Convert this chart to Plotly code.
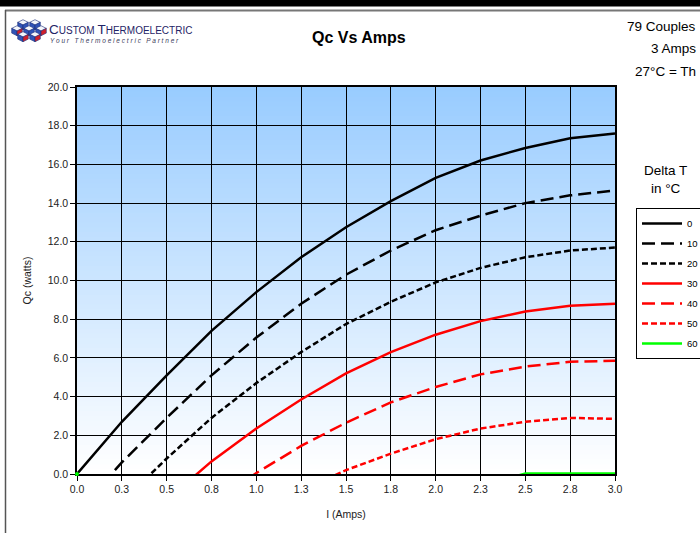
import plotly.graph_objects as go

# ---------------- data ----------------
current = [0.0, 0.25, 0.5, 0.75, 1.0, 1.25, 1.5, 1.75, 2.0, 2.25, 2.5, 2.75, 3.0]
q_dt0 = [0.0, 2.7, 5.1, 7.4, 9.4, 11.2, 12.75, 14.1, 15.3, 16.2, 16.85, 17.35, 17.6]
q_dt10 = [-2.0, 0.6, 2.9, 5.1, 7.05, 8.8, 10.3, 11.55, 12.6, 13.35, 14.0, 14.4, 14.65]
q_dt20 = [-4.0, -1.45, 0.8, 2.9, 4.7, 6.3, 7.75, 8.9, 9.9, 10.65, 11.2, 11.55, 11.7]
q_dt30 = [-6.0, -3.55, -1.35, 0.65, 2.35, 3.85, 5.2, 6.3, 7.2, 7.9, 8.4, 8.7, 8.8]
q_dt40 = [-8.0, -5.6, -3.5, -1.6, 0.05, 1.45, 2.65, 3.7, 4.5, 5.15, 5.55, 5.8, 5.85]
q_dt50 = [-10.0, -7.7, -5.7, -3.8, -2.25, -0.85, 0.2, 1.05, 1.8, 2.35, 2.7, 2.9, 2.85]
q_dt60 = [0.0, -9.8, -7.8, -6.0, -4.5, -3.1, -1.9, -1.0, -0.5, -0.6, 0.02, 0.02, 0.02]

series_names = ["0", "10", "20", "30", "40", "50", "60"]
x_tick_vals = [0.0, 0.25, 0.5, 0.75, 1.0, 1.25, 1.5, 1.75, 2.0, 2.25, 2.5, 2.75, 3.0]
x_tick_text = ["0.0", "0.3", "0.5", "0.8", "1.0", "1.3", "1.5", "1.8", "2.0", "2.3", "2.5", "2.8", "3.0"]
y_tick_vals = [0, 2, 4, 6, 8, 10, 12, 14, 16, 18, 20]
info_lines = ["79 Couples", "3 Amps", "27°C = Th"]

# ---------------- geometry helpers (pixel -> paper) ----------------
W, H = 700, 533
L, R, T, B = 77, 615, 87, 474


def px(x):
    return (x - L) / (R - L)


def py(y):
    return (B - y) / (B - T)


FONT = "Liberation Sans, Arial, sans-serif"

fig = go.Figure()

styles = [
    ("black", "solid"),
    ("black", "13px,6px"),
    ("black", "6px,3px"),
    ("#FF0000", "solid"),
    ("#FF0000", "13px,6px"),
    ("#FF0000", "6px,3px"),
    ("#00FF00", "solid"),
]
all_q = [q_dt0, q_dt10, q_dt20, q_dt30, q_dt40, q_dt50, q_dt60]
for name, ys, (col, dash) in zip(series_names, all_q, styles):
    fig.add_trace(go.Scatter(
        x=current, y=ys, name=name, mode="lines",
        line=dict(color=col, width=2.5, dash=dash),
        legendgroup=name, hoverinfo="skip",
    ))

# small marker of the ΔT=60 series at its first point
fig.add_trace(go.Scatter(
    x=current[:1], y=q_dt60[:1], mode="markers", showlegend=False,
    marker=dict(color="#00FF00", size=4), cliponaxis=False, hoverinfo="skip",
))

shapes = []
# gradient background in plot area
N = 80
top = (153, 204, 255)
bot = (255, 255, 255)
for i in range(N):
    f = i / (N - 1)
    c = tuple(round(bot[k] + (top[k] - bot[k]) * f) for k in range(3))
    shapes.append(dict(
        type="rect", xref="x domain", yref="y domain",
        x0=0, x1=1, y0=i / N, y1=min(1, (i + 1) / N + 0.002),
        fillcolor="rgb(%d,%d,%d)" % c, line=dict(width=0), layer="below",
    ))

# page decorations
shapes.append(dict(type="rect", xref="paper", yref="paper",
                   x0=px(-5), x1=px(705), y0=py(6.5), y1=py(-2),
                   fillcolor="black", line=dict(width=0), layer="above"))
shapes.append(dict(type="line", xref="paper", yref="paper",
                   x0=px(5), x1=px(705), y0=py(10.5), y1=py(10.5),
                   line=dict(color="#777777", width=2), layer="above"))
shapes.append(dict(type="line", xref="paper", yref="paper",
                   x0=px(5.5), x1=px(5.5), y0=py(10), y1=py(540),
                   line=dict(color="#555555", width=1.5), layer="above"))


# logo icon: little isometric cubes
def cube(cx, cy, s, right_col):
    tp = [(cx - s, cy - s * 0.5), (cx, cy - s), (cx + s, cy - s * 0.5), (cx, cy)]
    lf = [(cx - s, cy - s * 0.5), (cx, cy), (cx, cy + s * 0.9), (cx - s, cy + s * 0.4)]
    rt = [(cx, cy), (cx + s, cy - s * 0.5), (cx + s, cy + s * 0.4), (cx, cy + s * 0.9)]
    out = []
    for pts, colr in ((tp, "#F4F6FB"), (lf, "#2F53B8"), (rt, right_col)):
        path = "M " + " L ".join("%.5f,%.5f" % (px(a), py(b)) for a, b in pts) + " Z"
        out.append(dict(type="path", xref="paper", yref="paper", path=path,
                        fillcolor=colr, line=dict(color="#1C2F7A", width=0.6), layer="above"))
    return out


s = 5.3
for (cx, cy, rc) in [(23, 25, "#2F53B8"), (35, 25, "#2F53B8"),
                     (17, 31, "#D0202A"), (29, 31, "#2F53B8"), (41, 31, "#D0202A"),
                     (23, 37, "#D0202A"), (35, 37, "#D0202A")]:
    shapes += cube(cx, cy, s, rc)

annotations = []
# logo text
annotations.append(dict(
    xref="paper", yref="paper", x=px(47), y=py(29), xanchor="left", yanchor="middle",
    text="<span style='font-size:13.5px'>C</span>USTOM <span style='font-size:13.5px'>T</span>HERMOELECTRIC",
    showarrow=False, font=dict(family=FONT, size=10, color="#1F2466")))
annotations.append(dict(
    xref="paper", yref="paper", x=px(48), y=py(40), xanchor="left", yanchor="middle",
    text="<i>Y o u r   T h e r m o e l e c t r i c   P a r t n e r</i>",
    showarrow=False, font=dict(family=FONT, size=6.5, color="#3A3A5A")))
# title
annotations.append(dict(
    xref="paper", yref="paper", x=px(359), y=py(38), xanchor="center", yanchor="middle",
    text="<b>Qc Vs Amps</b>", showarrow=False, font=dict(family=FONT, size=16, color="black")))
# info text at right
for txt, yy in zip(info_lines, [27, 48, 71]):
    annotations.append(dict(
        xref="paper", yref="paper", x=px(698), y=py(yy), xanchor="right", yanchor="middle",
        text=txt, showarrow=False, font=dict(family=FONT, size=13.5, color="black")))
# legend title
annotations.append(dict(
    xref="paper", yref="paper", x=px(665), y=py(179), xanchor="center", yanchor="middle",
    text="Delta T<br>in °C", showarrow=False, align="center",
    font=dict(family=FONT, size=13.5, color="black")))

axis_common = dict(
    showgrid=True, gridcolor="black", gridwidth=1,
    showline=True, linecolor="black", linewidth=1.5, mirror=True,
    ticks="outside", ticklen=5, tickcolor="black", tickwidth=1,
    zeroline=False, layer="below traces",
    tickfont=dict(family=FONT, size=10.5, color="#222222"),
    fixedrange=True, automargin=False,
)

fig.update_layout(
    width=W, height=H,
    margin=dict(l=L, r=W - R, t=T, b=H - B, pad=0, autoexpand=False),
    paper_bgcolor="white", plot_bgcolor="white",
    font=dict(family=FONT, size=10.5, color="black"),
    shapes=shapes, annotations=annotations,
    showlegend=True,
    legend=dict(
        x=px(636), y=py(208), xanchor="left", yanchor="top",
        bgcolor="white", bordercolor="black", borderwidth=1,
        font=dict(family=FONT, size=9.5, color="black"),
        tracegroupgap=1, itemwidth=40, traceorder="grouped",
    ),
    xaxis=dict(range=[0, 3], tickmode="array", tickvals=x_tick_vals, ticktext=x_tick_text,
               title=dict(text="I (Amps)", font=dict(family=FONT, size=10.5, color="#222222"), standoff=16),
               **axis_common),
    yaxis=dict(range=[0, 20], tickmode="array", tickvals=y_tick_vals, tickformat=".1f",
               title=dict(text="Qc (watts)", font=dict(family=FONT, size=10.5, color="#222222"), standoff=14),
               **axis_common),
)

fig.write_html(
    "out.html",
    config={"displayModeBar": False},
    post_script="document.body.style.margin='0';document.body.style.overflow='hidden';",
)
